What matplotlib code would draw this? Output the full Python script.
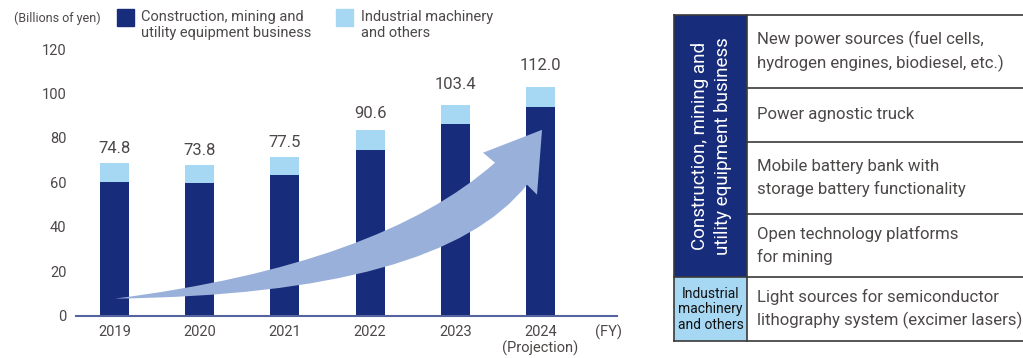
import matplotlib
matplotlib.use('Agg')
import matplotlib.pyplot as plt
from matplotlib.patches import Rectangle, PathPatch
from matplotlib.path import Path

# ================= 数据 =================
years = ['2019', '2020', '2021', '2022', '2023', '2024\n(Projection)']
construction = [60.2, 59.8, 63.4, 74.6, 86.3, 93.9]   # dark segment
industrial = [8.6, 8.1, 8.1, 9.0, 8.5, 9.0]           # light segment
totals = [74.8, 73.8, 77.5, 90.6, 103.4, 112.0]       # printed totals
yticks = [0, 20, 40, 60, 80, 100, 120]

legend_labels = ['Construction, mining and\nutility equipment business',
                 'Industrial machinery\nand others']
table_group_top = 'Construction, mining and\nutility equipment business'
table_group_bottom = 'Industrial\nmachinery\nand others'
table_rows = ['New power sources (fuel cells,\nhydrogen engines, biodiesel, etc.)',
              'Power agnostic truck',
              'Mobile battery bank with\nstorage battery functionality',
              'Open technology platforms\nfor mining',
              'Light sources for semiconductor\nlithography system (excimer lasers)']

DARK = '#182c7c'
LIGHT = '#a6d7f3'
ARROW = '#99b1da'
TEXT = '#4d4848'

plt.rcParams['font.family'] = ['Roboto', 'DejaVu Sans']

W, H = 1023, 358
fig = plt.figure(figsize=(W / 100, H / 100), dpi=100)

# 背景用像素坐标轴（图例、表格）
ov = fig.add_axes([0, 0, 1, 1])
ov.set_xlim(0, W)
ov.set_ylim(H, 0)
ov.axis('off')

# ================= 柱状图 =================
ax = fig.add_axes([76 / W, (H - 315.5) / H, (617 - 76) / W, (315.5 - 49) / H])
ax.set_facecolor('none')
x = list(range(len(years)))
ax.bar(x, construction, width=0.34, color=DARK, zorder=2)
ax.bar(x, industrial, width=0.34, bottom=construction, color=LIGHT, zorder=2)
for xi, t in zip(x, totals):
    ax.text(xi, t + 0.5, f'{t:.1f}', ha='center', va='center', fontsize=12, color=TEXT)

ax.set_xlim(-0.452, 5.898)
ax.set_ylim(0, 120)
ax.set_yticks(yticks)
ax.set_xticks(x)
ax.set_xticklabels(years, linespacing=1.15)
ax.tick_params(axis='both', length=0, labelsize=10.5, labelcolor=TEXT)
ax.tick_params(axis='x', pad=7)
ax.tick_params(axis='y', pad=7)
for s in ['top', 'right', 'left']:
    ax.spines[s].set_visible(False)
ax.spines['bottom'].set_color('#5564a0')
ax.spines['bottom'].set_linewidth(1.5)
ax.text(5.80, -4.2, '(FY)', ha='center', va='top', fontsize=10.5, color=TEXT)

# 增长箭头
verts = [(0.006, 7.6), (3.116, 22.9), (4.466, 68.8), (4.325, 73.3), (5.018, 83.6),
         (4.959, 54.4), (4.842, 58.9), (3.821, 9.4), (0.006, 7.6)]
codes = [Path.MOVETO, Path.CURVE3, Path.CURVE3, Path.LINETO, Path.LINETO,
         Path.LINETO, Path.LINETO, Path.CURVE3, Path.CURVE3]
ax.add_patch(PathPatch(Path(verts, codes), facecolor=ARROW, edgecolor='none', zorder=3))

# ================= 图例 =================
ov.text(14, 18, '(Billions of yen)', ha='left', va='center', fontsize=9, color=TEXT)
ov.add_patch(Rectangle((117, 9), 17, 17, color=DARK))
ov.text(141, 10, legend_labels[0], ha='left', va='top', fontsize=10.5, color=TEXT, linespacing=1.2)
ov.add_patch(Rectangle((336, 9), 17, 17, color=LIGHT))
ov.text(361, 10, legend_labels[1], ha='left', va='top', fontsize=10.5, color=TEXT, linespacing=1.2)

# ================= 表格 =================
L, M, R = 674, 747, 1030
row_edges = [15, 88, 142, 214, 277, 341]
ov.add_patch(Rectangle((L, 15), M - L, 277 - 15, facecolor=DARK, edgecolor='none'))
ov.add_patch(Rectangle((L, 277), M - L, 341 - 277, facecolor=LIGHT, edgecolor='none'))
lc = '#3a3a3a'
ov.plot([L, R], [15, 15], color=lc, lw=1.2)
ov.plot([L, R], [341, 341], color=lc, lw=1.2)
ov.plot([L, R], [277, 277], color=lc, lw=1.2)
for yy in row_edges[1:4]:
    ov.plot([M, R], [yy, yy], color=lc, lw=1.2)
ov.plot([L, L], [15, 341], color=lc, lw=1.2)
ov.plot([M, M], [15, 341], color=lc, lw=1.2)

for i, txt in enumerate(table_rows):
    yc = (row_edges[i] + row_edges[i + 1]) / 2
    ov.text(757, yc, txt, ha='left', va='center', fontsize=12.1, color=TEXT, linespacing=1.5)

ov.text((L + M) / 2 + 1, 146, table_group_top, ha='center', va='center', rotation=90,
        fontsize=13.5, color='white', linespacing=1.3, multialignment='center')
ov.text((L + M) / 2, 309.5, table_group_bottom, ha='center', va='center', fontsize=10,
        color='#111111', linespacing=1.1, multialignment='center',
        family=['Liberation Sans Narrow', 'Roboto', 'DejaVu Sans'])

fig.savefig('out.png', dpi=100)
